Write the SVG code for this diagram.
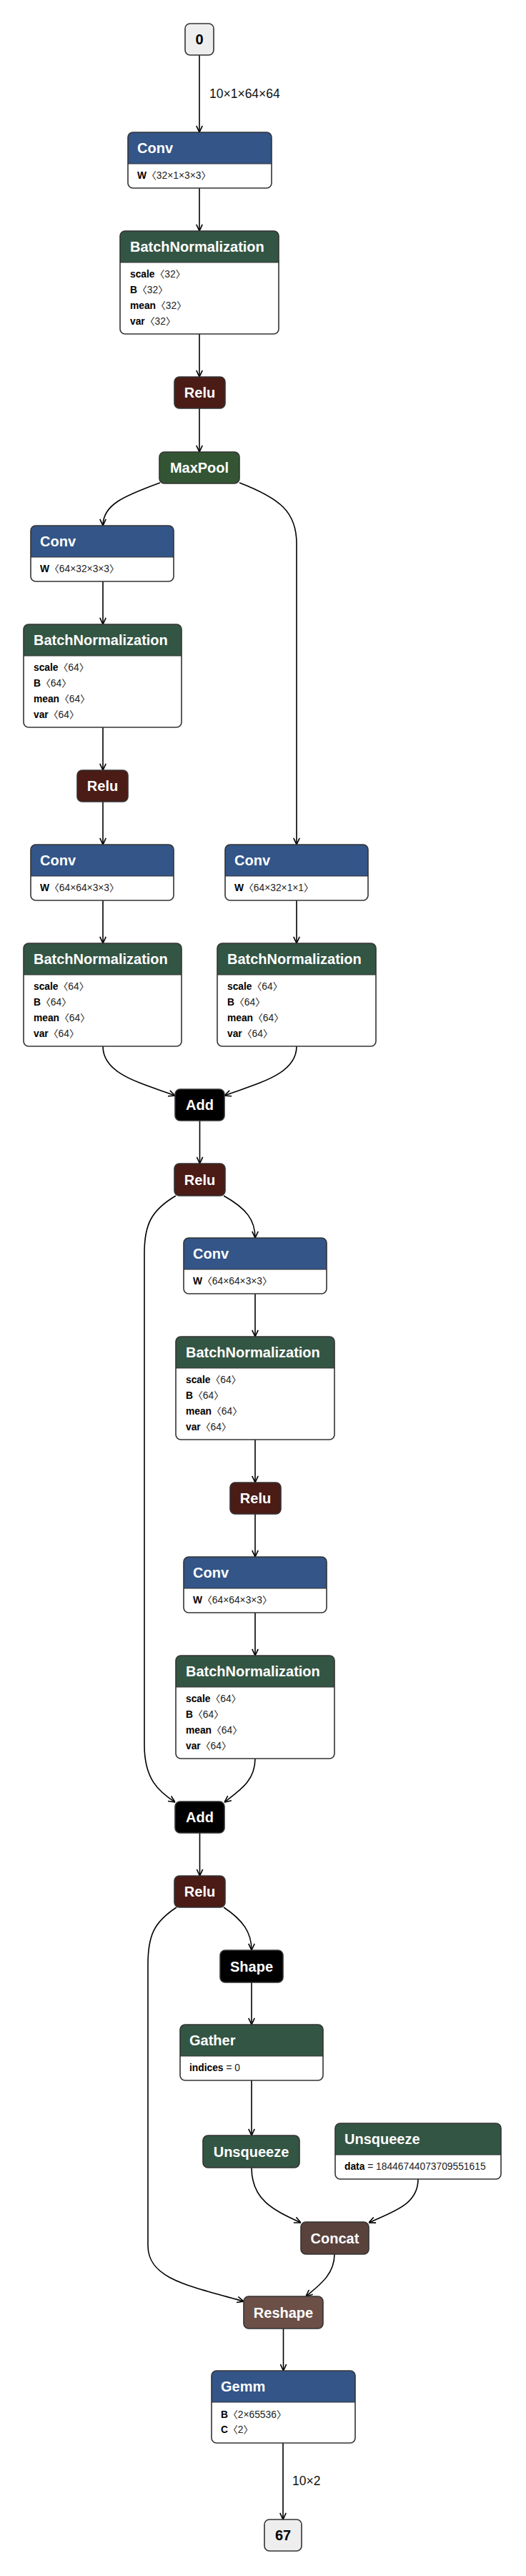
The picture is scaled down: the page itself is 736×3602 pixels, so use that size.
<svg xmlns="http://www.w3.org/2000/svg" width="736" height="3602" viewBox="0 0 736 3602">
<defs>
<style>
.bg{fill:#fff}
.o{fill:none;stroke:#333;stroke-width:1.6}
.dv{stroke:#333;stroke-width:1.2}
.h{font-family:"Liberation Sans",Arial,sans-serif;font-size:20px;font-weight:bold;fill:#fff}
.hc{text-anchor:middle}
.io{font-family:"Liberation Sans",Arial,sans-serif;font-size:20px;font-weight:bold;fill:#000;text-anchor:middle}
.a{font-family:"Liberation Sans",Arial,sans-serif;font-size:13.8px;fill:#222}
.a .n{font-weight:bold;fill:#000}
.a .k{font-family:"Noto Sans CJK SC","Noto Sans CJK JP",sans-serif;font-size:13.8px}
.lbl{font-family:"Liberation Sans",Arial,sans-serif;font-size:17.5px;fill:#111}
.e{fill:none;stroke:#000;stroke-width:1.6;marker-end:url(#ar)}
.cL{fill:#335588}.cN{fill:#335544}.cA{fill:#4b1b16}.cP{fill:#335533}.cK{fill:#000}.cS{fill:#6c4f47}.cT{fill:#59423b}
</style>
<marker id="ar" viewBox="0 0 10 10" refX="10" refY="5" markerWidth="10" markerHeight="10" markerUnits="userSpaceOnUse" orient="auto">
<path d="M0.8,0.8 L10,5 L0.8,9.2" fill="none" stroke="#000" stroke-width="1.6"/>
</marker>
</defs>
<rect width="736" height="3602" fill="#fff"/>

<g id="edges">
<path class="e" d="M279,77 V185"/>
<path class="e" d="M279,263 V323"/>
<path class="e" d="M279,467 V527"/>
<path class="e" d="M279,571 V632"/>
<path class="e" d="M224,675 C172,694 144,706 144,735"/>
<path class="e" d="M335,675 C392,697 415,716 415,760 V1181"/>
<path class="e" d="M144,813 V873"/>
<path class="e" d="M144,1017 V1077"/>
<path class="e" d="M144,1121 V1181"/>
<path class="e" d="M144,1259 V1319"/>
<path class="e" d="M415,1259 V1319"/>
<path class="e" d="M144,1463 C144,1502 196,1514 245,1532"/>
<path class="e" d="M415,1463 C415,1502 363,1514 314,1532"/>
<path class="e" d="M279.5,1567 V1627"/>
<path class="e" d="M313,1672 C345,1690 357,1706 357,1731"/>
<path class="e" d="M246,1672 C212,1692 202,1712 202,1752 V2440 C202,2488 222,2505 245,2520"/>
<path class="e" d="M357,1809 V1869"/>
<path class="e" d="M357,2013 V2073"/>
<path class="e" d="M357,2117 V2177"/>
<path class="e" d="M357,2255 V2315"/>
<path class="e" d="M357,2459 C357,2490 336,2503 314,2520"/>
<path class="e" d="M279.5,2563 V2623"/>
<path class="e" d="M313,2667 C340,2685 352,2702 352,2727"/>
<path class="e" d="M247,2667 C215,2688 207,2707 207,2747 V3140 C207,3186 262,3196 341,3218"/>
<path class="e" d="M352,2772 V2831"/>
<path class="e" d="M352,2909 V2986"/>
<path class="e" d="M352,3031 C352,3076 382,3090 421,3108"/>
<path class="e" d="M585,3047 C585,3082 552,3092 516,3108"/>
<path class="e" d="M468,3152 C468,3181 446,3196 428,3211"/>
<path class="e" d="M396.5,3256 V3315"/>
<path class="e" d="M396,3416 V3523"/>
<text class="lbl" x="293" y="137">10×1×64×64</text>
<text class="lbl" x="409" y="3475">10×2</text>
</g>

<g id="node-input-0">
<rect x="259" y="33" width="40" height="44" rx="7" class="o" style="fill:#eee"/>
<text class="io" x="279" y="62">0</text>
</g>

<g id="node-conv1">
<rect class="bg" x="179" y="185" width="201" height="78" rx="7"/>
<path class="cL" d="M179,229 V192 Q179,185 186,185 H373 Q380,185 380,192 V229 Z"/>
<line class="dv" x1="179" y1="229" x2="380" y2="229"/>
<rect class="o" x="179" y="185" width="201" height="78" rx="7"/>
<text class="h" x="192" y="214">Conv</text>
<text class="a" x="192" y="250"><tspan class="n">W</tspan><tspan class="k">〈</tspan>32×1×3×3<tspan class="k">〉</tspan></text>
</g>

<g id="node-bn1">
<rect class="bg" x="168" y="323" width="222" height="144" rx="7"/>
<path class="cN" d="M168,367 V330 Q168,323 175,323 H383 Q390,323 390,330 V367 Z"/>
<line class="dv" x1="168" y1="367" x2="390" y2="367"/>
<rect class="o" x="168" y="323" width="222" height="144" rx="7"/>
<text class="h" x="182" y="352">BatchNormalization</text>
<text class="a" x="182" y="388"><tspan class="n">scale</tspan><tspan class="k">〈</tspan>32<tspan class="k">〉</tspan></text>
<text class="a" x="182" y="410"><tspan class="n">B</tspan><tspan class="k">〈</tspan>32<tspan class="k">〉</tspan></text>
<text class="a" x="182" y="432"><tspan class="n">mean</tspan><tspan class="k">〈</tspan>32<tspan class="k">〉</tspan></text>
<text class="a" x="182" y="454"><tspan class="n">var</tspan><tspan class="k">〈</tspan>32<tspan class="k">〉</tspan></text>
</g>

<g id="node-relu1">
<rect class="cA" x="244" y="527" width="71" height="44" rx="7"/>
<rect class="o" x="244" y="527" width="71" height="44" rx="7"/>
<text class="h hc" x="279.5" y="556">Relu</text>
</g>

<g id="node-maxpool">
<rect class="cP" x="223" y="632" width="112" height="44" rx="7"/>
<rect class="o" x="223" y="632" width="112" height="44" rx="7"/>
<text class="h hc" x="279" y="661">MaxPool</text>
</g>

<g id="node-conv2">
<rect class="bg" x="43" y="735" width="200" height="78" rx="7"/>
<path class="cL" d="M43,779 V742 Q43,735 50,735 H236 Q243,735 243,742 V779 Z"/>
<line class="dv" x1="43" y1="779" x2="243" y2="779"/>
<rect class="o" x="43" y="735" width="200" height="78" rx="7"/>
<text class="h" x="56" y="764">Conv</text>
<text class="a" x="56" y="800"><tspan class="n">W</tspan><tspan class="k">〈</tspan>64×32×3×3<tspan class="k">〉</tspan></text>
</g>

<g id="node-bn2">
<rect class="bg" x="33" y="873" width="221" height="144" rx="7"/>
<path class="cN" d="M33,917 V880 Q33,873 40,873 H247 Q254,873 254,880 V917 Z"/>
<line class="dv" x1="33" y1="917" x2="254" y2="917"/>
<rect class="o" x="33" y="873" width="221" height="144" rx="7"/>
<text class="h" x="47" y="902">BatchNormalization</text>
<text class="a" x="47" y="938"><tspan class="n">scale</tspan><tspan class="k">〈</tspan>64<tspan class="k">〉</tspan></text>
<text class="a" x="47" y="960"><tspan class="n">B</tspan><tspan class="k">〈</tspan>64<tspan class="k">〉</tspan></text>
<text class="a" x="47" y="982"><tspan class="n">mean</tspan><tspan class="k">〈</tspan>64<tspan class="k">〉</tspan></text>
<text class="a" x="47" y="1004"><tspan class="n">var</tspan><tspan class="k">〈</tspan>64<tspan class="k">〉</tspan></text>
</g>

<g id="node-relu2">
<rect class="cA" x="108" y="1077" width="71" height="44" rx="7"/>
<rect class="o" x="108" y="1077" width="71" height="44" rx="7"/>
<text class="h hc" x="143.5" y="1106">Relu</text>
</g>

<g id="node-conv4">
<rect class="bg" x="43" y="1181" width="200" height="78" rx="7"/>
<path class="cL" d="M43,1225 V1188 Q43,1181 50,1181 H236 Q243,1181 243,1188 V1225 Z"/>
<line class="dv" x1="43" y1="1225" x2="243" y2="1225"/>
<rect class="o" x="43" y="1181" width="200" height="78" rx="7"/>
<text class="h" x="56" y="1210">Conv</text>
<text class="a" x="56" y="1246"><tspan class="n">W</tspan><tspan class="k">〈</tspan>64×64×3×3<tspan class="k">〉</tspan></text>
</g>

<g id="node-conv3">
<rect class="bg" x="315" y="1181" width="200" height="78" rx="7"/>
<path class="cL" d="M315,1225 V1188 Q315,1181 322,1181 H508 Q515,1181 515,1188 V1225 Z"/>
<line class="dv" x1="315" y1="1225" x2="515" y2="1225"/>
<rect class="o" x="315" y="1181" width="200" height="78" rx="7"/>
<text class="h" x="328" y="1210">Conv</text>
<text class="a" x="328" y="1246"><tspan class="n">W</tspan><tspan class="k">〈</tspan>64×32×1×1<tspan class="k">〉</tspan></text>
</g>

<g id="node-bn3">
<rect class="bg" x="33" y="1319" width="221" height="144" rx="7"/>
<path class="cN" d="M33,1363 V1326 Q33,1319 40,1319 H247 Q254,1319 254,1326 V1363 Z"/>
<line class="dv" x1="33" y1="1363" x2="254" y2="1363"/>
<rect class="o" x="33" y="1319" width="221" height="144" rx="7"/>
<text class="h" x="47" y="1348">BatchNormalization</text>
<text class="a" x="47" y="1384"><tspan class="n">scale</tspan><tspan class="k">〈</tspan>64<tspan class="k">〉</tspan></text>
<text class="a" x="47" y="1406"><tspan class="n">B</tspan><tspan class="k">〈</tspan>64<tspan class="k">〉</tspan></text>
<text class="a" x="47" y="1428"><tspan class="n">mean</tspan><tspan class="k">〈</tspan>64<tspan class="k">〉</tspan></text>
<text class="a" x="47" y="1450"><tspan class="n">var</tspan><tspan class="k">〈</tspan>64<tspan class="k">〉</tspan></text>
</g>

<g id="node-bn4">
<rect class="bg" x="304" y="1319" width="222" height="144" rx="7"/>
<path class="cN" d="M304,1363 V1326 Q304,1319 311,1319 H519 Q526,1319 526,1326 V1363 Z"/>
<line class="dv" x1="304" y1="1363" x2="526" y2="1363"/>
<rect class="o" x="304" y="1319" width="222" height="144" rx="7"/>
<text class="h" x="318" y="1348">BatchNormalization</text>
<text class="a" x="318" y="1384"><tspan class="n">scale</tspan><tspan class="k">〈</tspan>64<tspan class="k">〉</tspan></text>
<text class="a" x="318" y="1406"><tspan class="n">B</tspan><tspan class="k">〈</tspan>64<tspan class="k">〉</tspan></text>
<text class="a" x="318" y="1428"><tspan class="n">mean</tspan><tspan class="k">〈</tspan>64<tspan class="k">〉</tspan></text>
<text class="a" x="318" y="1450"><tspan class="n">var</tspan><tspan class="k">〈</tspan>64<tspan class="k">〉</tspan></text>
</g>

<g id="node-add1">
<rect class="cK" x="245" y="1523" width="69" height="44" rx="7"/>
<rect class="o" x="245" y="1523" width="69" height="44" rx="7"/>
<text class="h hc" x="279.5" y="1552">Add</text>
</g>

<g id="node-relu3">
<rect class="cA" x="244" y="1627" width="71" height="45" rx="7"/>
<rect class="o" x="244" y="1627" width="71" height="45" rx="7"/>
<text class="h hc" x="279.5" y="1657">Relu</text>
</g>

<g id="node-conv5">
<rect class="bg" x="257" y="1731" width="200" height="78" rx="7"/>
<path class="cL" d="M257,1775 V1738 Q257,1731 264,1731 H450 Q457,1731 457,1738 V1775 Z"/>
<line class="dv" x1="257" y1="1775" x2="457" y2="1775"/>
<rect class="o" x="257" y="1731" width="200" height="78" rx="7"/>
<text class="h" x="270" y="1760">Conv</text>
<text class="a" x="270" y="1796"><tspan class="n">W</tspan><tspan class="k">〈</tspan>64×64×3×3<tspan class="k">〉</tspan></text>
</g>

<g id="node-bn5">
<rect class="bg" x="246" y="1869" width="222" height="144" rx="7"/>
<path class="cN" d="M246,1913 V1876 Q246,1869 253,1869 H461 Q468,1869 468,1876 V1913 Z"/>
<line class="dv" x1="246" y1="1913" x2="468" y2="1913"/>
<rect class="o" x="246" y="1869" width="222" height="144" rx="7"/>
<text class="h" x="260" y="1898">BatchNormalization</text>
<text class="a" x="260" y="1934"><tspan class="n">scale</tspan><tspan class="k">〈</tspan>64<tspan class="k">〉</tspan></text>
<text class="a" x="260" y="1956"><tspan class="n">B</tspan><tspan class="k">〈</tspan>64<tspan class="k">〉</tspan></text>
<text class="a" x="260" y="1978"><tspan class="n">mean</tspan><tspan class="k">〈</tspan>64<tspan class="k">〉</tspan></text>
<text class="a" x="260" y="2000"><tspan class="n">var</tspan><tspan class="k">〈</tspan>64<tspan class="k">〉</tspan></text>
</g>

<g id="node-relu4">
<rect class="cA" x="322" y="2073" width="71" height="44" rx="7"/>
<rect class="o" x="322" y="2073" width="71" height="44" rx="7"/>
<text class="h hc" x="357.5" y="2102">Relu</text>
</g>

<g id="node-conv6">
<rect class="bg" x="257" y="2177" width="200" height="78" rx="7"/>
<path class="cL" d="M257,2221 V2184 Q257,2177 264,2177 H450 Q457,2177 457,2184 V2221 Z"/>
<line class="dv" x1="257" y1="2221" x2="457" y2="2221"/>
<rect class="o" x="257" y="2177" width="200" height="78" rx="7"/>
<text class="h" x="270" y="2206">Conv</text>
<text class="a" x="270" y="2242"><tspan class="n">W</tspan><tspan class="k">〈</tspan>64×64×3×3<tspan class="k">〉</tspan></text>
</g>

<g id="node-bn6">
<rect class="bg" x="246" y="2315" width="222" height="144" rx="7"/>
<path class="cN" d="M246,2359 V2322 Q246,2315 253,2315 H461 Q468,2315 468,2322 V2359 Z"/>
<line class="dv" x1="246" y1="2359" x2="468" y2="2359"/>
<rect class="o" x="246" y="2315" width="222" height="144" rx="7"/>
<text class="h" x="260" y="2344">BatchNormalization</text>
<text class="a" x="260" y="2380"><tspan class="n">scale</tspan><tspan class="k">〈</tspan>64<tspan class="k">〉</tspan></text>
<text class="a" x="260" y="2402"><tspan class="n">B</tspan><tspan class="k">〈</tspan>64<tspan class="k">〉</tspan></text>
<text class="a" x="260" y="2424"><tspan class="n">mean</tspan><tspan class="k">〈</tspan>64<tspan class="k">〉</tspan></text>
<text class="a" x="260" y="2446"><tspan class="n">var</tspan><tspan class="k">〈</tspan>64<tspan class="k">〉</tspan></text>
</g>

<g id="node-add2">
<rect class="cK" x="245" y="2519" width="69" height="44" rx="7"/>
<rect class="o" x="245" y="2519" width="69" height="44" rx="7"/>
<text class="h hc" x="279.5" y="2548">Add</text>
</g>

<g id="node-relu5">
<rect class="cA" x="244" y="2623" width="71" height="44" rx="7"/>
<rect class="o" x="244" y="2623" width="71" height="44" rx="7"/>
<text class="h hc" x="279.5" y="2652">Relu</text>
</g>

<g id="node-shape">
<rect class="cK" x="308" y="2727" width="88" height="45" rx="7"/>
<rect class="o" x="308" y="2727" width="88" height="45" rx="7"/>
<text class="h hc" x="352" y="2757">Shape</text>
</g>

<g id="node-gather">
<rect class="bg" x="252" y="2831" width="200" height="78" rx="7"/>
<path class="cN" d="M252,2875 V2838 Q252,2831 259,2831 H445 Q452,2831 452,2838 V2875 Z"/>
<line class="dv" x1="252" y1="2875" x2="452" y2="2875"/>
<rect class="o" x="252" y="2831" width="200" height="78" rx="7"/>
<text class="h" x="265" y="2860">Gather</text>
<text class="a" x="265" y="2896"><tspan class="n">indices</tspan> = 0</text>
</g>

<g id="node-unsqueeze1">
<rect class="cN" x="284" y="2986" width="135" height="45" rx="7"/>
<rect class="o" x="284" y="2986" width="135" height="45" rx="7"/>
<text class="h hc" x="351.5" y="3016">Unsqueeze</text>
</g>

<g id="node-unsqueeze2">
<rect class="bg" x="469" y="2969" width="232" height="78" rx="7"/>
<path class="cN" d="M469,3013 V2976 Q469,2969 476,2969 H694 Q701,2969 701,2976 V3013 Z"/>
<line class="dv" x1="469" y1="3013" x2="701" y2="3013"/>
<rect class="o" x="469" y="2969" width="232" height="78" rx="7"/>
<text class="h" x="482" y="2998">Unsqueeze</text>
<text class="a" x="482" y="3034"><tspan class="n">data</tspan> = 18446744073709551615</text>
</g>

<g id="node-concat">
<rect class="cT" x="421" y="3107" width="95" height="45" rx="7"/>
<rect class="o" x="421" y="3107" width="95" height="45" rx="7"/>
<text class="h hc" x="468.5" y="3137">Concat</text>
</g>

<g id="node-reshape">
<rect class="cS" x="341" y="3211" width="111" height="45" rx="7"/>
<rect class="o" x="341" y="3211" width="111" height="45" rx="7"/>
<text class="h hc" x="396.5" y="3241">Reshape</text>
</g>

<g id="node-gemm">
<rect class="bg" x="296" y="3315" width="201" height="101" rx="7"/>
<path class="cL" d="M296,3359 V3322 Q296,3315 303,3315 H490 Q497,3315 497,3322 V3359 Z"/>
<line class="dv" x1="296" y1="3359" x2="497" y2="3359"/>
<rect class="o" x="296" y="3315" width="201" height="101" rx="7"/>
<text class="h" x="309" y="3344">Gemm</text>
<text class="a" x="309" y="3381"><tspan class="n">B</tspan><tspan class="k">〈</tspan>2×65536<tspan class="k">〉</tspan></text>
<text class="a" x="309" y="3402"><tspan class="n">C</tspan><tspan class="k">〈</tspan>2<tspan class="k">〉</tspan></text>
</g>

<g id="node-output-67">
<rect x="370" y="3523" width="52" height="44" rx="7" class="o" style="fill:#eee"/>
<text class="io" x="396" y="3552">67</text>
</g>
</svg>
